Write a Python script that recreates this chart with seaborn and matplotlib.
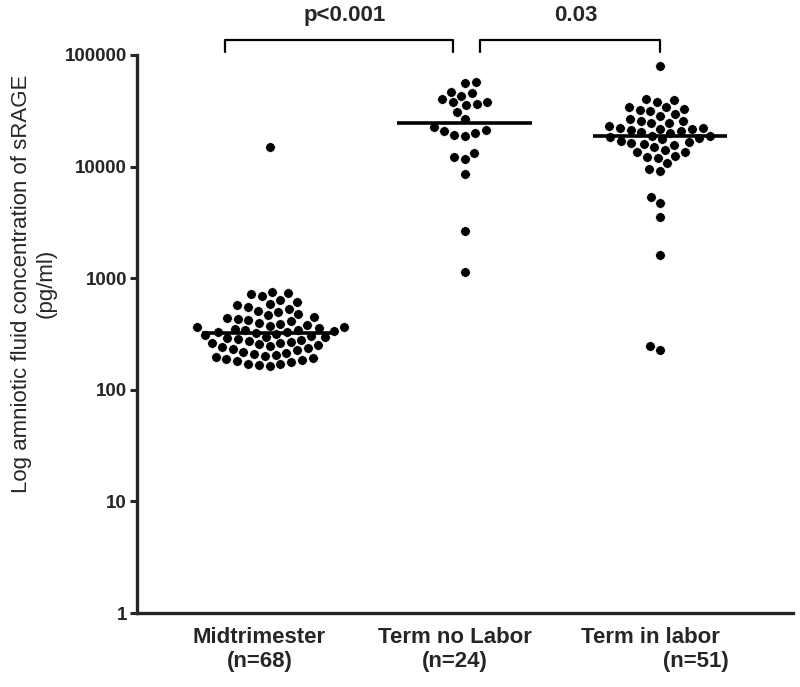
import numpy as np
import pandas as pd
import matplotlib
matplotlib.use('Agg')
import matplotlib.pyplot as plt
import matplotlib.transforms as mtransforms
import seaborn as sns


# data (pg/ml)
groups = ['Midtrimester', 'Term no Labor', 'Term in labor']
group_labels = ['Midtrimester\n(n=68)',
                'Term no Labor\n(n=24)',
                'Term in labor\n' + ' ' * 15 + '(n=51)']

midtrimester = [15000,
                750, 735, 720, 690, 640, 610, 590, 570, 550, 530, 510,
                495, 480, 465, 450, 440, 430, 420, 410, 400, 392, 384,
                376, 368, 362, 356, 350, 345, 340, 335, 330, 327, 324,
                318, 312, 306, 300, 295, 290, 285, 280, 275, 270, 265,
                260, 255, 250, 245, 240, 235, 230, 225, 220, 215, 210,
                205, 200, 196, 192, 188, 184, 180, 176, 172, 169, 167, 165]

term_no_labor = [56500, 57700, 46900, 45400, 40400, 37700, 35600, 36400,
                 38200, 43200, 31000, 26500, 21300, 20100, 18900, 19200,
                 21000, 22800, 12300, 11800, 13300, 8600, 2670, 1130]

term_in_labor = [80200, 39500, 34400, 32600, 31500, 32100, 34000, 38200, 40400,
                 29600, 26500, 25600, 24700, 23100, 24700, 25800, 28400,
                 22300, 21700, 21200, 20900, 21500, 22000, 20300,
                 19900, 18800, 18700, 18300, 17900, 17500, 17100, 16700, 16300, 16000, 15700,
                 14100, 13600, 12300, 10800, 12000, 12500, 13600, 14900, 9200, 9500,
                 5370, 4750, 3520, 1610, 228, 247]

ytick_values = [1, 10, 100, 1000, 10000, 100000]
ytick_labels = ['1', '10', '100', '1000', '10000', '100000']

# (left, right, text) for significance brackets, x in category units
brackets = [(-0.23, 0.94, 'p<0.001'), (1.08, 2.0, '0.03')]


df = pd.DataFrame({
    'group': (['Midtrimester'] * len(midtrimester)
              + ['Term no Labor'] * len(term_no_labor)
              + ['Term in labor'] * len(term_in_labor)),
    'value': midtrimester + term_no_labor + term_in_labor,
})

sns.set_style('ticks')
plt.rcParams['font.family'] = ['Liberation Sans', 'DejaVu Sans']

fig = plt.figure(figsize=(8, 6.87), dpi=100)
ax = fig.add_axes([0.171, 0.1077, 0.82, 0.8123])

sns.swarmplot(data=df, x='group', y='value', order=groups, color='black',
              size=7.0, linewidth=0.5, edgecolor='white', log_scale=True,
              warn_thresh=1, ax=ax)

# median lines
for i, g in enumerate(groups):
    med = np.median(df.loc[df['group'] == g, 'value'])
    ax.plot([i - 0.345, i + 0.345], [med, med], color='black', lw=2.6,
            solid_capstyle='butt', zorder=5)

ax.set_ylim(1, 100000)
ax.set_xlim(-0.68, 2.68)
ax.yaxis.set_minor_locator(matplotlib.ticker.NullLocator())
ax.set_yticks(ytick_values)
ax.set_yticklabels(ytick_labels, fontsize=13.5, fontweight='bold')
ax.set_xticks(range(len(groups)))
ax.set_xticklabels(group_labels, fontsize=16, fontweight='bold')
ax.tick_params(axis='x', length=0, pad=10)
ax.tick_params(axis='y', length=5, width=2.2, pad=2)
for lab in ax.get_xticklabels():
    lab.set_transform(lab.get_transform()
                      + mtransforms.ScaledTranslation(-0.10, 0, fig.dpi_scale_trans))

ax.set_xlabel('')
ax.set_ylabel('Log amniotic fluid concentration of sRAGE\n(pg/ml)', fontsize=16,
              labelpad=6, y=0.59)

sns.despine(ax=ax)
for sp in ['left', 'bottom']:
    ax.spines[sp].set_linewidth(2.4)

# significance brackets above the axes
trans = mtransforms.blended_transform_factory(ax.transData, ax.transAxes)
for x0, x1, txt in brackets:
    ax.plot([x0, x0, x1, x1], [1.005, 1.027, 1.027, 1.005], color='black',
            lw=1.6, transform=trans, clip_on=False)
    ax.text((x0 + x1) / 2 + 0.03, 1.07, txt, transform=trans, ha='center',
            va='center', fontsize=16, fontweight='bold')

fig.savefig('out.png', dpi=100)
